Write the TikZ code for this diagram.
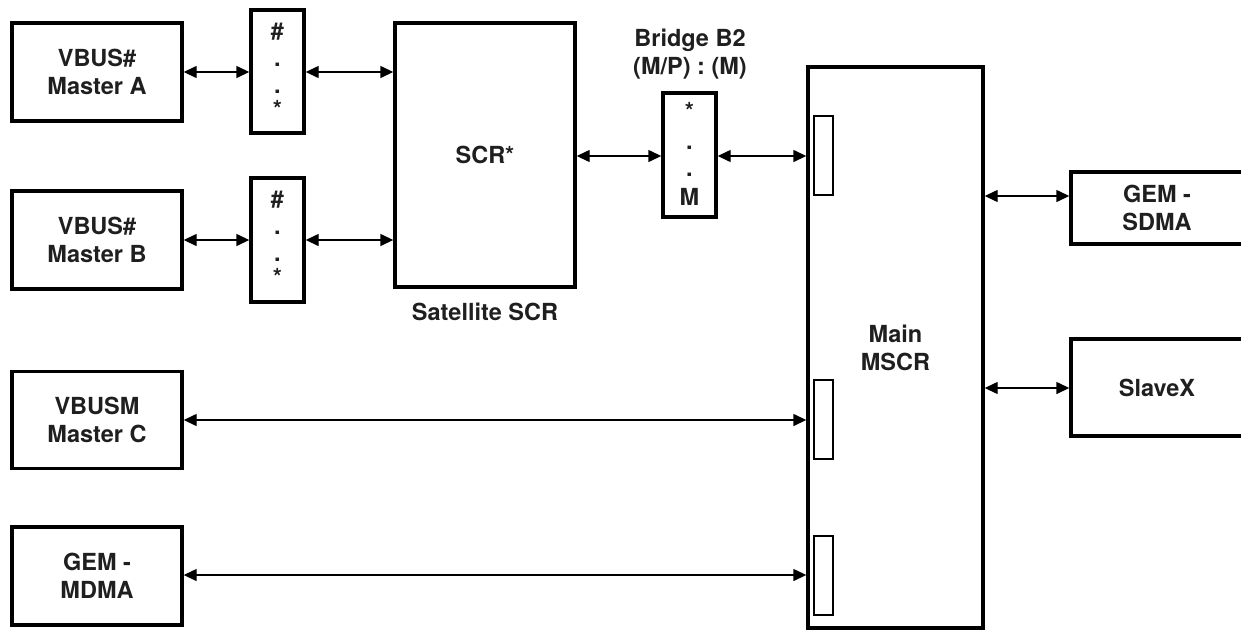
\documentclass[tikz,border=0pt]{standalone}
\usepackage{fontspec}
\setmainfont{TeX Gyre Heros}
\usetikzlibrary{arrows.meta}
\begin{document}
\begin{tikzpicture}[x=1pt,y=-1pt,
  font=\fontsize{23.5}{28}\selectfont\bfseries,
  blk/.style={draw, line width=3.4pt, rectangle, inner sep=0pt, align=center, text=black!88},
  port/.style={draw, line width=1.3pt, rectangle, inner sep=0pt, minimum width=19pt},
  lbl/.style={inner sep=0pt, align=center, text=black!88},
  bus/.style={line width=1.4pt, {Triangle[length=13pt,width=12pt]}-{Triangle[length=13pt,width=12pt]}}
]
\useasboundingbox (0,0) rectangle (1241,630);
% left masters
\node[blk, minimum width=170pt, minimum height=98pt] (ma) at (97,72) {VBUS\#\\Master A};
\node[blk, minimum width=170pt, minimum height=98pt] (mb) at (97,240) {VBUS\#\\Master B};
\node[blk, minimum width=170pt, minimum height=97pt] (mc) at (97,420) {VBUSM\\Master C};
\node[blk, minimum width=170pt, minimum height=98pt] (md) at (97,576) {GEM -\\MDMA};
% small bridges
\node[blk, minimum width=53pt, minimum height=123pt] (ba) at (277.5,71.5) {};
\node[lbl] (ba1) at (277.5,32) {\#};
\node[lbl] (ba2) at (277.5,65) {.};
\node[lbl] (ba3) at (277.5,92) {.};
\node[lbl] (ba4) at (277.5,109) {*};
\node[blk, minimum width=53pt, minimum height=124pt] (bb) at (277.5,240) {};
\node[lbl] (bb1) at (277.5,200) {\#};
\node[lbl] (bb2) at (277.5,233) {.};
\node[lbl] (bb3) at (277.5,260) {.};
\node[lbl] (bb4) at (277.5,277) {*};
% SCR
\node[blk, minimum width=180pt, minimum height=264pt] (scr) at (485,155) {SCR*};
\node[lbl] (satl) at (485,312) {Satellite SCR};
% bridge B2
\node[blk, minimum width=53pt, minimum height=124pt] (b2) at (689.5,155) {};
\node[lbl] (b21) at (689.5,111) {*};
\node[lbl] (b22) at (689.5,148) {.};
\node[lbl] (b23) at (689.5,175) {.};
\node[lbl] (b24) at (689.5,197) {M};
\node[lbl] (b2l) at (690,54) {Bridge B2\\(M/P) : (M)};
% main
\node[blk, minimum width=175pt, minimum height=561pt] (main) at (895.5,347.5) {Main\\MSCR};
\node[port, minimum height=79pt] (p1) at (823.5,155.5) {};
\node[port, minimum height=79pt] (p2) at (823.5,419.5) {};
\node[port, minimum height=79pt] (p3) at (823.5,575.5) {};
% slaves
\node[blk, minimum width=172pt, minimum height=72pt] (gs) at (1157,208) {GEM -\\SDMA};
\node[blk, minimum width=172pt, minimum height=97pt] (sx) at (1157,387.5) {SlaveX};
% connectors
\draw[bus] (ma.east |- 0,72) -- (ba.west |- 0,72);
\draw[bus] (ba.east |- 0,72) -- (scr.west |- 0,72);
\draw[bus] (mb.east |- 0,240) -- (bb.west |- 0,240);
\draw[bus] (bb.east |- 0,240) -- (scr.west |- 0,240);
\draw[bus] (scr.east |- 0,156) -- (b2.west |- 0,156);
\draw[bus] (b2.east |- 0,156) -- (main.west |- 0,156);
\draw[bus] (mc.east |- 0,420) -- (main.west |- 0,420);
\draw[bus] (md.east |- 0,575) -- (main.west |- 0,575);
\draw[bus] (main.east |- 0,196) -- (gs.west |- 0,196);
\draw[bus] (main.east |- 0,388) -- (sx.west |- 0,388);
\end{tikzpicture}
\end{document}
